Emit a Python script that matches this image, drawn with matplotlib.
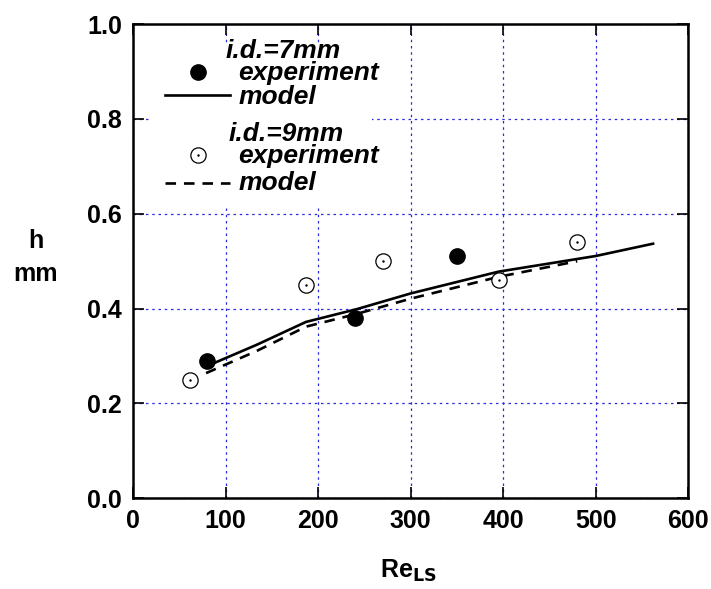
import matplotlib
matplotlib.use('Agg')
import matplotlib.pyplot as plt
from matplotlib.patches import Rectangle

plt.rcParams['font.family'] = ['Liberation Sans', 'DejaVu Sans']
plt.rcParams['font.weight'] = 'bold'

# measured data
re7_exp = [80, 240, 350]
h7_exp = [0.29, 0.38, 0.51]
re9_exp = [62, 187, 270, 395, 480]
h9_exp = [0.25, 0.45, 0.50, 0.46, 0.54]

# model curves
re7_mod = [79, 134, 187, 242, 300, 395, 500, 562]
h7_mod = [0.278, 0.324, 0.372, 0.399, 0.432, 0.478, 0.511, 0.537]
re9_mod = [79, 134, 187, 242, 300, 395, 480]
h9_mod = [0.264, 0.311, 0.362, 0.389, 0.421, 0.467, 0.500]

xticks = [0, 100, 200, 300, 400, 500, 600]
yticks = [0.0, 0.2, 0.4, 0.6, 0.8, 1.0]

fig = plt.figure(figsize=(7.11, 5.89), dpi=100)
ax = fig.add_axes([0.187, 0.154, 0.781, 0.805])

ax.grid(True, color='#2a2ae0', linestyle=(0, (2, 3)), linewidth=0.9)
ax.set_axisbelow(True)

ax.plot(re7_mod, h7_mod, '-', color='black', lw=1.9, zorder=3)
ax.plot(re9_mod, h9_mod, '--', color='black', lw=1.9, dashes=(4, 3), zorder=3)
ax.plot(re7_exp, h7_exp, 'o', color='black', ms=11, zorder=4)
ax.plot(re9_exp, h9_exp, 'o', mfc='white', mec='black', mew=0.9, ms=11, zorder=4)
ax.plot(re9_exp, h9_exp, '.', color='black', ms=1.5, zorder=5)

ax.set_xlim(0, 600)
ax.set_ylim(0, 1.0)
ax.set_xticks(xticks)
ax.set_yticks(yticks)
ax.set_yticklabels(['%.1f' % v for v in yticks])
ax.tick_params(direction='in', length=8, width=1.2, labelsize=18,
               top=True, right=True, pad=8)
for s in ax.spines.values():
    s.set_linewidth(1.8)

# legend block drawn by hand
tr = ax.transAxes
ax.add_patch(Rectangle((0.031, 0.614), 0.40, 0.342, transform=tr,
                       facecolor='white', edgecolor='none', zorder=2))
lfont = dict(fontsize=19, fontweight='bold', style='italic', va='center',
             transform=tr, zorder=6)
ax.text(0.167, 0.944, 'i.d.=7mm', **lfont)
ax.plot([0.117], [0.899], 'o', color='black', ms=11, transform=tr, zorder=6)
ax.text(0.190, 0.897, 'experiment', **lfont)
ax.plot([0.058, 0.175], [0.850, 0.850], '-', color='black', lw=1.9,
        transform=tr, zorder=6)
ax.text(0.190, 0.846, 'model', **lfont)
ax.text(0.172, 0.768, 'i.d.=9mm', **lfont)
ax.plot([0.117], [0.723], 'o', mfc='white', mec='black', mew=0.9, ms=11,
        transform=tr, zorder=6)
ax.plot([0.117], [0.723], '.', color='black', ms=1.5, transform=tr, zorder=7)
ax.text(0.190, 0.721, 'experiment', **lfont)
ax.plot([0.058, 0.175], [0.665, 0.665], '--', color='black', lw=1.9,
        dashes=(4, 3), transform=tr, zorder=6)
ax.text(0.190, 0.666, 'model', **lfont)

fig.text(0.05, 0.59, 'h', fontsize=18, fontweight='bold', ha='center', va='center')
fig.text(0.05, 0.535, 'mm', fontsize=18, fontweight='bold', ha='center', va='center')
fig.text(0.575, 0.03, r'Re$_{\mathbf{LS}}$', fontsize=18, fontweight='bold',
         ha='center', va='center')

fig.savefig('out.png', dpi=100)
